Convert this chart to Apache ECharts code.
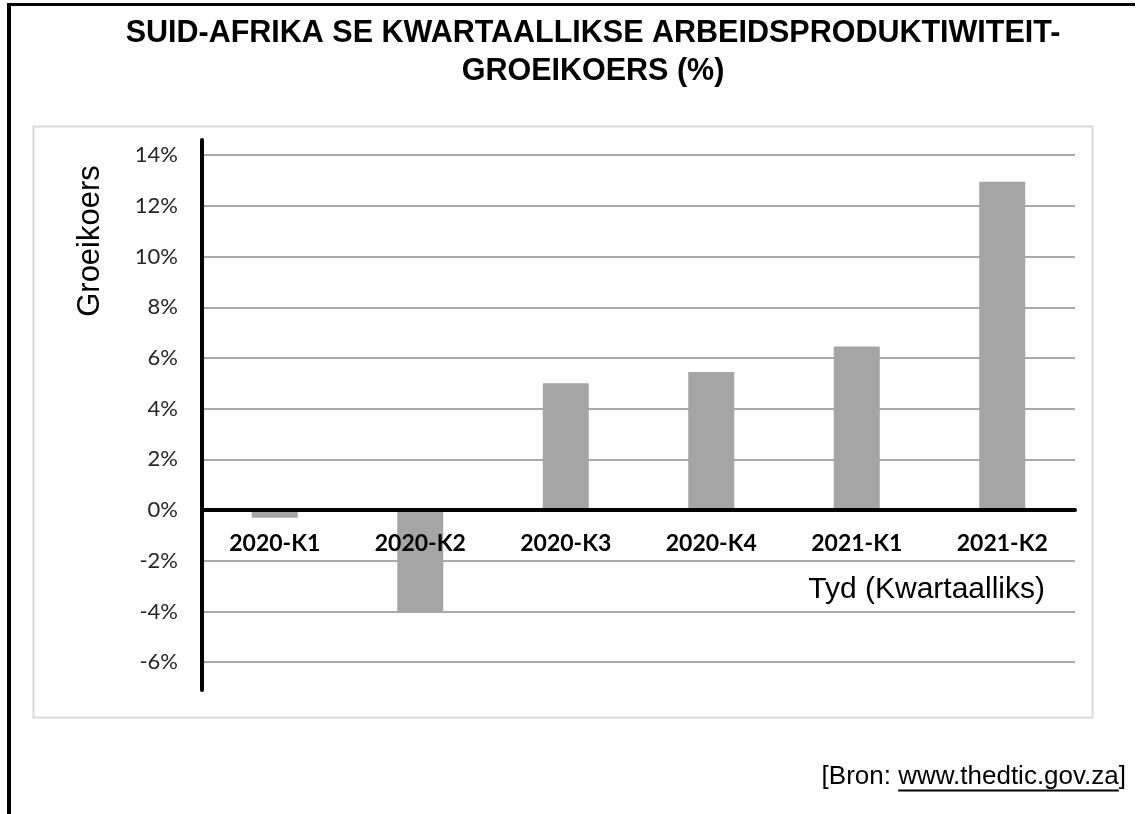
<!DOCTYPE html>
<html>
<head>
<meta charset="utf-8">
<title>Arbeidsproduktiwiteit</title>
<script src="https://cdn.jsdelivr.net/npm/echarts@6/dist/echarts.min.js"></script>
<style>
  html, body { margin: 0; padding: 0; background: #fff; }
  #main { width: 1140px; height: 814px; }
</style>
</head>
<body>
<div id="main"></div>
<script>
// kwartale en groeikoerse (%)
var quarters = ['2020-K1', '2020-K2', '2020-K3', '2020-K4', '2021-K1', '2021-K2'];
var growthRate = [-0.3, -4.0, 5.0, 5.45, 6.45, 12.95];

var titleLines = ['SUID-AFRIKA SE KWARTAALLIKSE ARBEIDSPRODUKTIWITEIT-', 'GROEIKOERS (%)'];
var yName = 'Groeikoers';
var xName = 'Tyd (Kwartaalliks)';
var srcPre = '[Bron: ', srcUrl = 'www.thedtic.gov.za', srcPost = ']';

var myChart = echarts.init(document.getElementById('main'));

// meet teks om die onderstreep van die bron te plaas
var ctx = document.createElement('canvas').getContext('2d');
var srcFont = '26px "Liberation Sans", Arial, sans-serif';
ctx.font = srcFont;
var wPost = ctx.measureText(srcPost).width;
var wUrl = ctx.measureText(srcUrl).width;
var srcRight = 1126;
var urlRight = srcRight - wPost;
var urlLeft = urlRight - wUrl;

var option = {
    backgroundColor: '#fff',
    animation: false,
    title: {
        text: titleLines.join('\n'),
        left: 588,
        top: 10,
        textAlign: 'center',
        textStyle: {
            fontFamily: '"Liberation Sans", Arial, sans-serif',
            fontWeight: 'bold',
            fontSize: 30.5,
            lineHeight: 38,
            color: '#000'
        }
    },
    grid: {
        left: 202,
        right: 65,
        top: 140,
        bottom: 124
    },
    xAxis: {
        type: 'category',
        data: quarters,
        z: 3,
        axisLine: { onZero: true, lineStyle: { color: '#000', width: 4 } },
        axisTick: { show: false },
        splitLine: { show: false },
        axisLabel: {
            // etikette sit net onder die nul-lyn
            margin: -158,
            fontFamily: 'Lato, "Open Sans", sans-serif',
            fontWeight: 'bold',
            fontSize: 23,
            color: '#000'
        }
    },
    yAxis: {
        type: 'value',
        min: -7.1,
        max: 14.6,
        minInterval: 2,
        maxInterval: 2,
        axisLine: { show: true, onZero: false, lineStyle: { color: '#000', width: 4 } },
        axisTick: { show: false },
        axisLabel: {
            margin: 24,
            showMinLabel: false,
            showMaxLabel: false,
            fontFamily: 'Lato, "Open Sans", sans-serif',
            fontSize: 22,
            color: '#262626',
            formatter: function (v) { return v + '%'; }
        },
        splitLine: {
            show: true,
            showMinLine: false,
            showMaxLine: false,
            lineStyle: { color: '#8c8c8c', width: 1.5 }
        }
    },
    series: [
        {
            name: yName,
            type: 'bar',
            data: growthRate,
            barWidth: 46,
            itemStyle: { color: '#a5a5a5' }
        }
    ],
    graphic: [
        // buiteraam
        { type: 'line', z: 10, shape: { x1: 7, y1: 4.5, x2: 1135, y2: 4.5 }, style: { stroke: '#000', lineWidth: 3 } },
        { type: 'line', z: 10, shape: { x1: 9, y1: 3, x2: 9, y2: 814 }, style: { stroke: '#000', lineWidth: 4 } },
        // grafiekpaneel
        { type: 'rect', z: -10, shape: { x: 33.5, y: 126.5, width: 1059, height: 591 }, style: { fill: '#fff', stroke: '#d9d9d9', lineWidth: 2 } },
        // asname
        {
            type: 'text', z: 10, x: 90, y: 241, rotation: Math.PI / 2,
            style: { text: yName, font: '31px "Liberation Sans", Arial, sans-serif', fill: '#000', align: 'center', verticalAlign: 'middle' }
        },
        {
            type: 'text', z: 10, x: 1045, y: 590,
            style: { text: xName, font: '30px "Liberation Sans", Arial, sans-serif', fill: '#000', align: 'right', verticalAlign: 'middle' }
        },
        // bron
        {
            type: 'text', z: 10, x: srcRight, y: 777,
            style: { text: srcPre + srcUrl + srcPost, font: srcFont, fill: '#000', align: 'right', verticalAlign: 'middle' }
        },
        { type: 'line', z: 10, shape: { x1: urlLeft, y1: 790.5, x2: urlRight, y2: 790.5 }, style: { stroke: '#000', lineWidth: 2 } }
    ]
};
myChart.setOption(option);
</script>
</body>
</html>
